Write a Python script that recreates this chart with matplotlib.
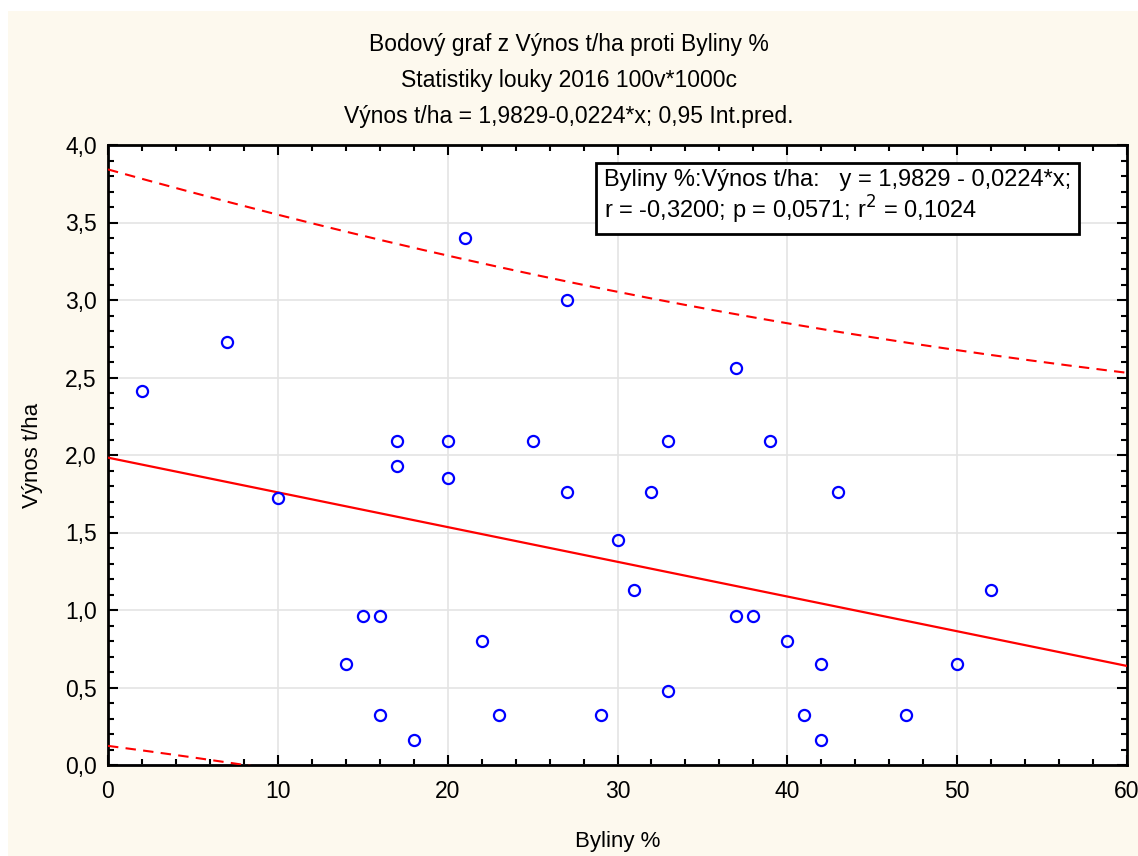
import matplotlib
matplotlib.use("Agg")
import matplotlib.pyplot as plt
from matplotlib.patches import Rectangle
from matplotlib.ticker import MultipleLocator, FuncFormatter
import numpy as np

plt.rcParams['font.family'] = ['Liberation Sans', 'DejaVu Sans']

# data
byliny = [2, 7, 10, 14, 15, 16, 16, 17, 17, 18, 20, 20, 21, 22, 23, 25, 27, 27,
          29, 30, 31, 32, 33, 33, 37, 37, 38, 39, 40, 41, 42, 42, 43, 47, 50, 52]
vynos = [2.41, 2.73, 1.72, 0.65, 0.96, 0.96, 0.32, 2.09, 1.93, 0.16, 2.09, 1.85,
         3.40, 0.80, 0.32, 2.09, 3.00, 1.76, 0.32, 1.45, 1.13, 1.76, 2.09, 0.48,
         2.56, 0.96, 0.96, 2.09, 0.80, 0.32, 0.65, 0.16, 1.76, 0.32, 0.65, 1.13]
intercept = 1.9829
slope = -0.0224
t_975 = 2.0322  # t quantile, df = 34

titles = ["Bodový graf z Výnos t/ha proti Byliny %",
          "Statistiky louky 2016 100v*1000c",
          "Výnos t/ha = 1,9829-0,0224*x; 0,95 Int.pred."]
box_text = ("Byliny %:Výnos t/ha:   y = 1,9829 - 0,0224*x;\n"
            "r = -0,3200; p = 0,0571; r$^2$ = 0,1024")

x = np.array(byliny, dtype=float)
y = np.array(vynos, dtype=float)
n = len(x)

fig = plt.figure(figsize=(11.38, 8.56), dpi=100)
fig.patch.set_facecolor('white')
fig.patches.append(Rectangle((8 / 1138, 0), 1, 1 - 11 / 856, transform=fig.transFigure,
                             facecolor='#fdf9ee', edgecolor='none', zorder=-10))

ax = fig.add_axes([108 / 1138, 91 / 856, 1019 / 1138, 620 / 856])
ax.set_facecolor('white')

# regression line and 0.95 prediction interval
xs = np.linspace(0, 60, 300)
ys = intercept + slope * xs
b1, b0 = np.polyfit(x, y, 1)
resid = y - (b0 + b1 * x)
s = np.sqrt(np.sum(resid ** 2) / (n - 2))
sxx = np.sum((x - x.mean()) ** 2)
half = t_975 * s * np.sqrt(1 + 1 / n + (xs - x.mean()) ** 2 / sxx)

ax.plot(xs, ys, color='red', lw=1.6, zorder=3)
ax.plot(xs, ys + half, color='red', lw=1.5, ls=(0, (5, 3.5)), zorder=3)
ax.plot(xs, ys - half, color='red', lw=1.5, ls=(0, (5, 3.5)), zorder=3)

ax.plot(x, y, 'o', mfc='none', mec='blue', ms=8, mew=1.6, zorder=4)

ax.set_xlim(0, 60)
ax.set_ylim(0, 4)
ax.xaxis.set_major_locator(MultipleLocator(10))
ax.xaxis.set_minor_locator(MultipleLocator(2))
ax.yaxis.set_major_locator(MultipleLocator(0.5))
ax.yaxis.set_minor_locator(MultipleLocator(0.1))
ax.xaxis.set_major_formatter(FuncFormatter(lambda v, p: f"{v:.0f}"))
ax.yaxis.set_major_formatter(FuncFormatter(lambda v, p: f"{v:.1f}".replace('.', ',')))
ax.tick_params(which='both', direction='in', top=True, right=True, width=1.5,
               labelsize=16.5, colors='black')
ax.tick_params(which='major', length=7, pad=8)
ax.tick_params(which='minor', length=4)
ax.tick_params(axis='x', pad=11)
ax.grid(True, which='major', color='#e4e4e4', lw=1.2)
ax.set_axisbelow(True)
for sp in ax.spines.values():
    sp.set_linewidth(2)

ax.set_xlabel("Byliny %", fontsize=16, labelpad=20)
ax.set_ylabel("Výnos t/ha", fontsize=16, labelpad=16)

for i, t in enumerate(titles):
    fig.text(0.5, 1 - (44 + i * 36) / 856, t, ha='center', va='center', fontsize=16.5)

ax.text(0.4868, 0.962, box_text, transform=ax.transAxes, fontsize=17,
        va='top', ha='left', linespacing=1.15,
        bbox=dict(boxstyle='square,pad=0.32', facecolor='white', edgecolor='black', lw=2),
        zorder=5)

fig.savefig("out.png", dpi=100, facecolor=fig.get_facecolor())
